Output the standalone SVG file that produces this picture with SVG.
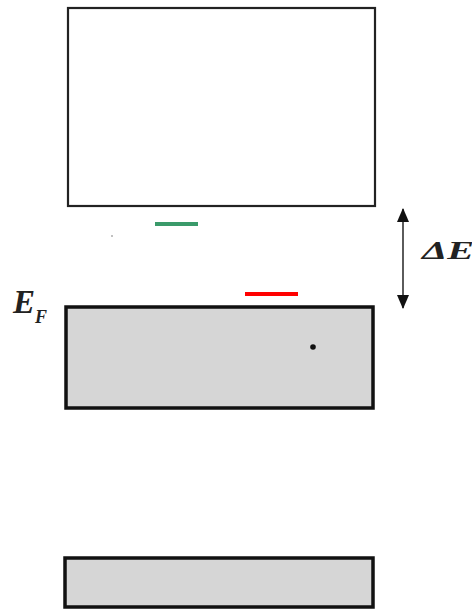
<svg xmlns="http://www.w3.org/2000/svg" width="472" height="609" viewBox="0 0 472 609">
<style>
.band{stroke:#111;stroke-width:3.5;fill:#d6d6d6}
.open{stroke:#222;stroke-width:2.2;fill:#fff}
.lbl{font-family:"Liberation Serif","DejaVu Serif",serif;font-style:italic;font-weight:bold;fill:#222}
</style>
<defs>
<marker id="ah" viewBox="0 0 14 12" refX="13" refY="6" markerWidth="14" markerHeight="12" markerUnits="userSpaceOnUse" orient="auto-start-reverse">
<path d="M0,0 L14,6 L0,12 z" fill="#111"/>
</marker>
</defs>
<rect width="472" height="609" fill="#fff"/>
<g id="conduction-band"><rect class="open" x="68" y="8" width="307" height="198"/></g>
<g id="valence-band"><rect class="band" x="66" y="307" width="307" height="101"/><circle cx="313" cy="347" r="2.8" fill="#111"/></g>
<g id="lower-band"><rect class="band" x="65" y="558" width="308" height="49"/></g>
<g id="donor-level"><line x1="155" y1="224" x2="198" y2="224" stroke="#3a9a6a" stroke-width="4"/></g>
<g id="acceptor-level"><line x1="245" y1="294" x2="298" y2="294" stroke="#ff0000" stroke-width="4"/></g>
<g id="connectors"><line x1="403" y1="209" x2="403" y2="308" stroke="#333" stroke-width="1.6" marker-start="url(#ah)" marker-end="url(#ah)"/></g>
<g id="labels">
<text class="lbl" x="422" y="259" font-size="26" textLength="52" lengthAdjust="spacingAndGlyphs">ΔE</text>
<text class="lbl" x="13" y="313" font-size="33">E<tspan font-size="18" dy="10">F</tspan></text>
</g>
<circle cx="112" cy="236" r="0.7" fill="#555"/>
</svg>
